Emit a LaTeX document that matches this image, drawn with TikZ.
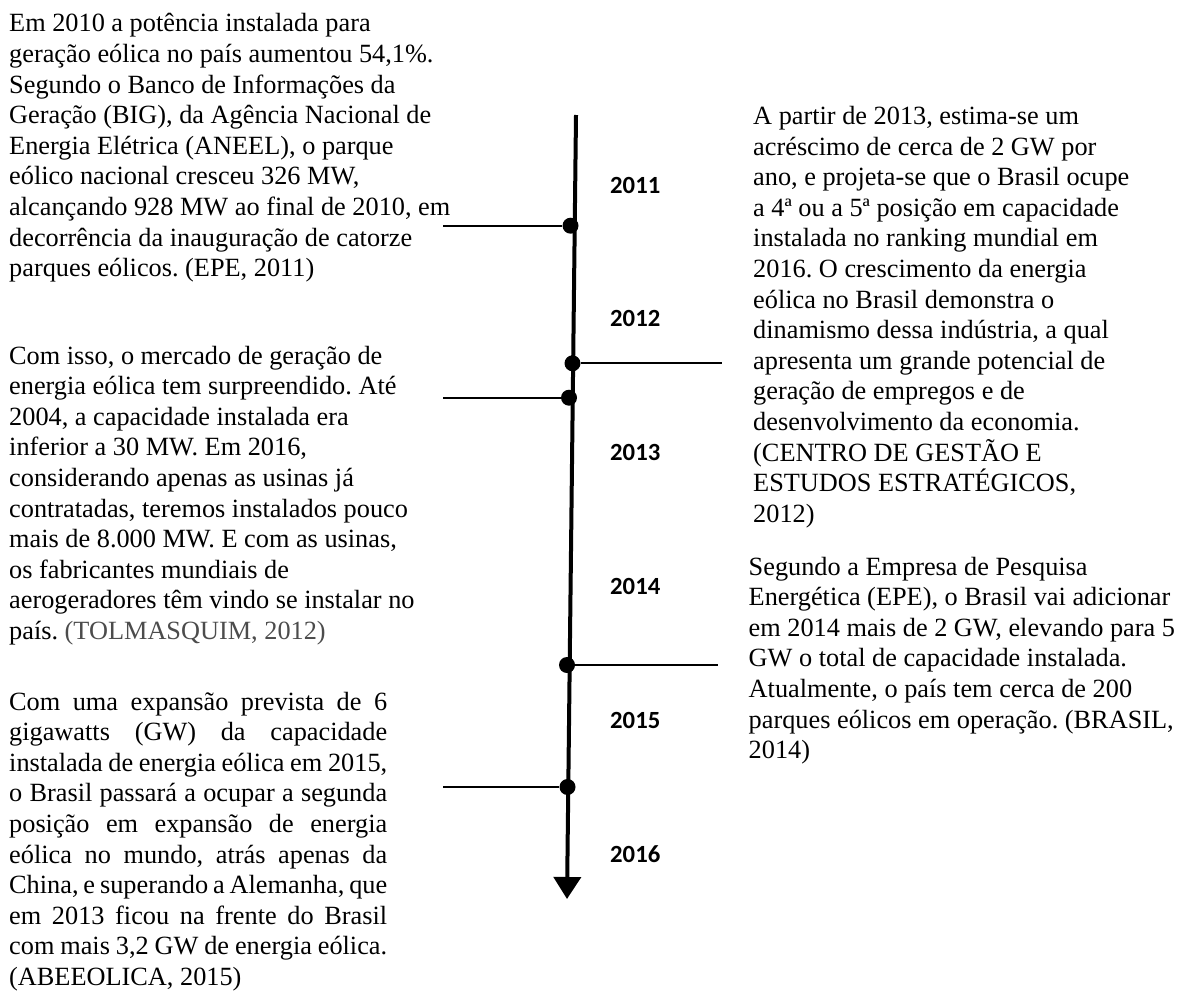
\documentclass[tikz,border=0pt]{standalone}
\usepackage{fontspec}
\setmainfont{Liberation Serif}
\newfontfamily\yearfamily{Carlito}
\usetikzlibrary{arrows.meta}

% body text: Times-metric serif, single spacing, even word spaces
\newcommand\bodyfont{\fontsize{26.3}{30.6}\selectfont\frenchspacing}
\newcommand\yearfont{\yearfamily\bfseries\fontsize{24.7}{28}\selectfont}
% one fully justified line of a block
\newlength\jstwidth
\setlength\jstwidth{378pt}
\newcommand\jstline[1]{\makebox[\jstwidth][s]{#1}}
\definecolor{citegray}{gray}{0.3}

\tikzset{
  para/.style={anchor=base west, inner sep=0pt, font=\bodyfont},
  year/.style={anchor=base west, inner sep=0pt, font=\yearfont},
  dot/.style={circle, fill=black, inner sep=0pt, minimum size=16pt},
  spine/.style={line width=4pt, -{Triangle[width=27pt,length=22pt]}},
  link/.style={line width=2pt},
}

\begin{document}
\begin{tikzpicture}[x=1pt,y=-1pt]
\useasboundingbox (0,0) rectangle (1177,990);

% ---------- time axis ----------
\coordinate (top) at (576,115);
\coordinate (tip) at (567,899);
\draw[spine] (top) -- (tip);

\node[dot] (d2010) at (570.5,225.7) {};
\node[dot] (d2013) at (572.5,363.3) {};
\node[dot] (d2004) at (569,397.7) {};
\node[dot] (d2014) at (567,665) {};
\node[dot] (d2015) at (567.5,787) {};

\coordinate (e2010) at (443,225.7);
\coordinate (e2013) at (722,363.3);
\coordinate (e2004) at (443,397.7);
\coordinate (e2014) at (717.5,665);
\coordinate (e2015) at (443,787);

\draw[link] (e2010) -- (d2010);
\draw[link] (d2013) -- (e2013);
\draw[link] (e2004) -- (d2004);
\draw[link] (d2014) -- (e2014);
\draw[link] (e2015) -- (d2015);

% ---------- years ----------
\node[year] (y2011) at (610,193) {2011};
\node[year] (y2012) at (610,326.8) {2012};
\node[year] (y2013) at (610,460.6) {2013};
\node[year] (y2014) at (610,594.4) {2014};
\node[year] (y2015) at (610,728.2) {2015};
\node[year] (y2016) at (610,862) {2016};

% ---------- left column ----------
\node[para] (t2010) at (9,32) {\parbox[t]{500pt}{\raggedright
Em 2010 a potência instalada para\\
geração eólica no país aumentou 54,1\%.\\
Segundo o Banco de Informações da\\
Geração (BIG), da Agência Nacional de\\
Energia Elétrica (ANEEL), o parque\\
eólico nacional cresceu 326 MW,\\
alcançando 928 MW ao final de 2010, em\\
decorrência da inauguração de catorze\\
parques eólicos. (EPE, 2011)}};

\node[para] (t2004) at (9,364) {\parbox[t]{500pt}{\raggedright
Com isso, o mercado de geração de\\
energia eólica tem surpreendido. Até\\
2004, a capacidade instalada era\\
inferior a 30 MW. Em 2016,\\
considerando apenas as usinas já\\
contratadas, teremos instalados pouco\\
mais de 8.000 MW. E com as usinas,\\
os fabricantes mundiais de\\
aerogeradores têm vindo se instalar no\\
país. {\color{citegray}(TOLMASQUIM, 2012)}}};

\node[para] (t2015) at (9,710) {\parbox[t]{500pt}{\raggedright
\jstline{Com uma expansão prevista de 6}\\
\jstline{gigawatts (GW) da capacidade}\\
\jstline{instalada de energia eólica em 2015,}\\
\jstline{o Brasil passará a ocupar a segunda}\\
\jstline{posição em expansão de energia}\\
\jstline{eólica no mundo, atrás apenas da}\\
\jstline{China, e superando a Alemanha, que}\\
\jstline{em 2013 ficou na frente do Brasil}\\
\jstline{com mais 3,2 GW de energia eólica.}\\
(ABEEOLICA, 2015)}};

% ---------- right column ----------
\node[para] (t2013) at (753,124.5) {\parbox[t]{500pt}{\raggedright
A partir de 2013, estima-se um\\
acréscimo de cerca de 2 GW por\\
ano, e projeta-se que o Brasil ocupe\\
a 4ª ou a 5ª posição em capacidade\\
instalada no ranking mundial em\\
2016. O crescimento da energia\\
eólica no Brasil demonstra o\\
dinamismo dessa indústria, a qual\\
apresenta um grande potencial de\\
geração de empregos e de\\
desenvolvimento da economia.\\
(CENTRO DE GESTÃO E\\
ESTUDOS ESTRATÉGICOS,\\
2012)}};

\node[para] (t2014) at (748.5,575) {\parbox[t]{500pt}{\raggedright
Segundo a Empresa de Pesquisa\\
Energética (EPE), o Brasil vai adicionar\\
em 2014 mais de 2 GW, elevando para 5\\
GW o total de capacidade instalada.\\
Atualmente, o país tem cerca de 200\\
parques eólicos em operação. (BRASIL,\\
2014)}};

\end{tikzpicture}
\end{document}
